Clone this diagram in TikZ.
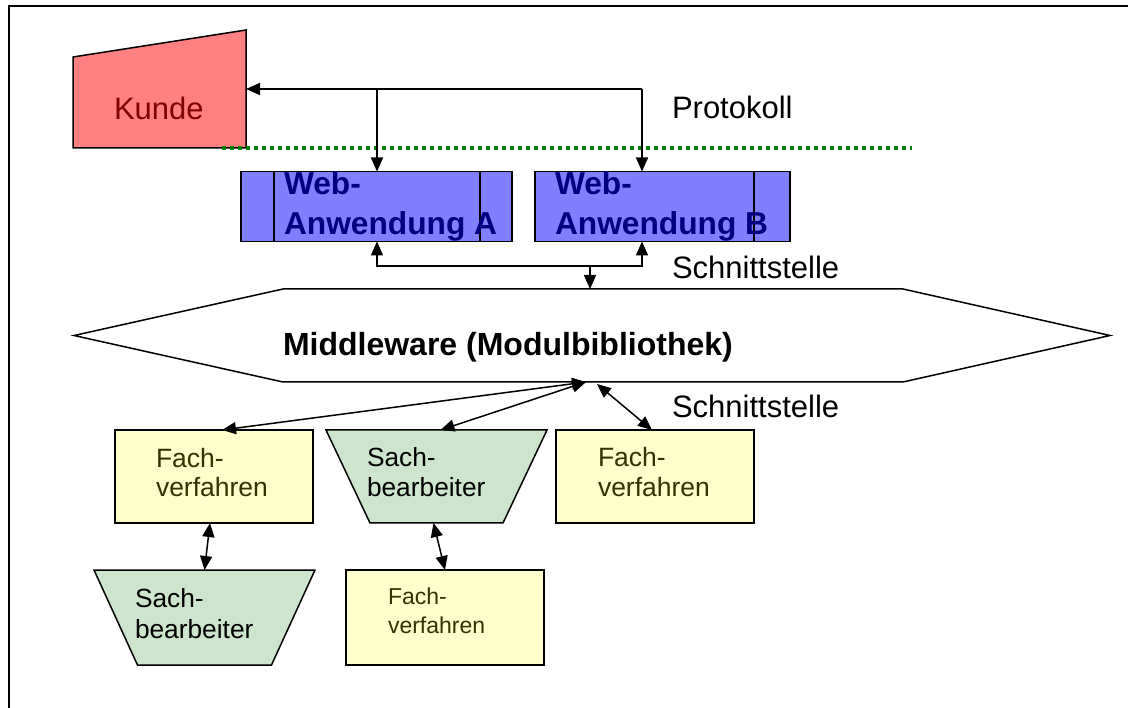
\documentclass[tikz,border=0pt]{standalone}
\usepackage{fontspec}
\setmainfont{Liberation Sans}
\usetikzlibrary{arrows.meta,calc}
\definecolor{kfill}{HTML}{FF8080}
\definecolor{ktext}{HTML}{800000}
\definecolor{wfill}{HTML}{8080FF}
\definecolor{wtext}{HTML}{000080}
\definecolor{ffill}{HTML}{FFFFCC}
\definecolor{ftext}{HTML}{333300}
\definecolor{sfill}{HTML}{CCE5CC}
\definecolor{dotgreen}{HTML}{008000}
\begin{document}
\begin{tikzpicture}[x=1pt,y=-1pt,
  area/.style={inner sep=0pt, outer sep=0pt},
  box/.style={draw, line width=1.5pt, inner sep=0pt, outer sep=0pt},
  outline/.style={draw=black, line width=1.5pt},
  lbl/.style={anchor=base west, inner sep=0pt, outer sep=0pt, font=\fontsize{31}{36}\selectfont},
  wlbl/.style={lbl, font=\fontsize{31.7}{38}\selectfont\bfseries, text=wtext},
  flbl/.style={lbl, font=\fontsize{26.5}{32}\selectfont, text=ftext},
  fsmall/.style={lbl, font=\fontsize{23}{28}\selectfont, text=ftext},
  slbl/.style={lbl, font=\fontsize{26.3}{32}\selectfont},
  tip/.style={line width=1.5pt, -{Triangle[length=14pt,width=12pt]}},
  tips/.style={line width=1.5pt, {Triangle[length=14pt,width=12pt]}-{Triangle[length=14pt,width=12pt]}},
]
\useasboundingbox (0,0) rectangle (1128,708);
% frame
\coordinate (fr1) at (9,708);
\coordinate (fr2) at (9,6);
\coordinate (fr3) at (1128,6);
\draw[line width=1.5pt] (fr1) -- (fr2) -- (fr3);

% Kunde
\node[area, minimum width=173pt, minimum height=118pt] (kunde) at (159.5,89) {};
\filldraw[outline, fill=kfill] (kunde.south west) -- ($(kunde.south west)+(0,-91)$) -- (kunde.north east) -- (kunde.south east) -- cycle;

% dotted border
\coordinate (d1) at (222,148);
\coordinate (d2) at (912,148);
\draw[dotgreen, line width=3.5pt, dash pattern=on 4pt off 4pt] (d1) -- (d2);

% Web applications
\node[box, fill=wfill, minimum width=271pt, minimum height=70pt] (wa) at (376.5,206.5) {};
\draw[outline] ($(wa.north west)+(33,0)$) -- ($(wa.south west)+(33,0)$);
\draw[outline] ($(wa.north west)+(239,0)$) -- ($(wa.south west)+(239,0)$);
\node[box, fill=wfill, minimum width=255pt, minimum height=70pt] (wb) at (662.5,206.5) {};
\draw[outline] ($(wb.north west)+(219,0)$) -- ($(wb.south west)+(219,0)$);

% Middleware
\node[area, minimum width=1036pt, minimum height=93pt] (mw) at (592,335.5) {};
\draw[outline, fill=white] (mw.west) -- ($(mw.north west)+(209,0)$) -- ($(mw.north east)+(-207,0)$) -- (mw.east) -- ($(mw.south east)+(-207,0)$) -- ($(mw.south west)+(209,0)$) -- cycle;

% lower boxes
\node[box, fill=ffill, minimum width=198pt, minimum height=93pt] (f1) at (214,476.5) {};
\node[area, minimum width=221pt, minimum height=93pt] (s1) at (436.5,476.5) {};
\filldraw[outline, fill=sfill] (s1.north west) -- (s1.north east) -- ($(s1.south east)+(-44,0)$) -- ($(s1.south west)+(44,0)$) -- cycle;
\node[box, fill=ffill, minimum width=198pt, minimum height=93pt] (f3) at (655,476.5) {};
\node[area, minimum width=221pt, minimum height=95pt] (s2) at (204.5,617.5) {};
\filldraw[outline, fill=sfill] (s2.north west) -- (s2.north east) -- ($(s2.south east)+(-43.5,0)$) -- ($(s2.south west)+(43.5,0)$) -- cycle;
\node[box, fill=ffill, minimum width=198pt, minimum height=95pt] (f5) at (445,617.5) {};

% connectors: Protokoll
\coordinate (pA) at (377,89);
\coordinate (pB) at (642,89);
\draw[tip] (pB) -- (kunde.east);
\draw[tip] (pA) -- (pA |- wa.north);
\draw[tip] (pB) -- (pB |- wb.north);

% connectors: Schnittstelle 1
\coordinate (qA) at (377,266);
\coordinate (qB) at (642,266);
\coordinate (qM) at (590,266);
\draw[tips] (qA |- wa.south) -- (qA) -- (qB) -- (qB |- wb.south);
\draw[tip] (qM) -- (qM |- mw.north);

% connectors: Schnittstelle 2
\coordinate (mwA) at ($(mw.south)+(-6,0)$);
\coordinate (mwB) at ($(mw.south)+(5,2)$);
\draw[tips] ($(f1.north)+(8,0)$) -- (mwA);
\draw[tips] ($(s1.north)+(4,0)$) -- (mwA);
\draw[tips] ($(f3.north)+(-3,0)$) -- (mwB);
\draw[tips] ($(f1.south)+(-4,0)$) -- (s2.north);
\draw[tips] ($(s1.south)+(-3,0)$) -- (f5.north);

% texts
\node[lbl, text=ktext] (tk) at (114,120) {Kunde};
\node[lbl] (tp) at (672,119) {Protokoll};
\node[lbl] (ts1) at (672,279) {Schnittstelle};
\node[lbl] (ts2) at (672,418) {Schnittstelle};
\node[wlbl] (twa1) at (284,195) {Web-};
\node[wlbl] (twa2) at (284,235) {Anwendung A};
\node[wlbl] (twb1) at (555,195) {Web-};
\node[wlbl] (twb2) at (555,235) {Anwendung B};
\node[lbl, font=\fontsize{32}{38}\selectfont\bfseries] (tmw) at (283,356) {Middleware (Modulbibliothek)};
\node[flbl] (tf1a) at (156,468) {Fach-};
\node[flbl] (tf1b) at (156,497) {verfahren};
\node[slbl] (ts1a) at (367,467) {Sach-};
\node[slbl] (ts1b) at (367,497) {bearbeiter};
\node[flbl] (tf3a) at (598,467) {Fach-};
\node[flbl] (tf3b) at (598,497) {verfahren};
\node[slbl] (ts2a) at (135,607) {Sach-};
\node[slbl] (ts2b) at (135,638) {bearbeiter};
\node[fsmall] (tf5a) at (388,604) {Fach-};
\node[fsmall] (tf5b) at (388,633) {verfahren};
\end{tikzpicture}
\end{document}
